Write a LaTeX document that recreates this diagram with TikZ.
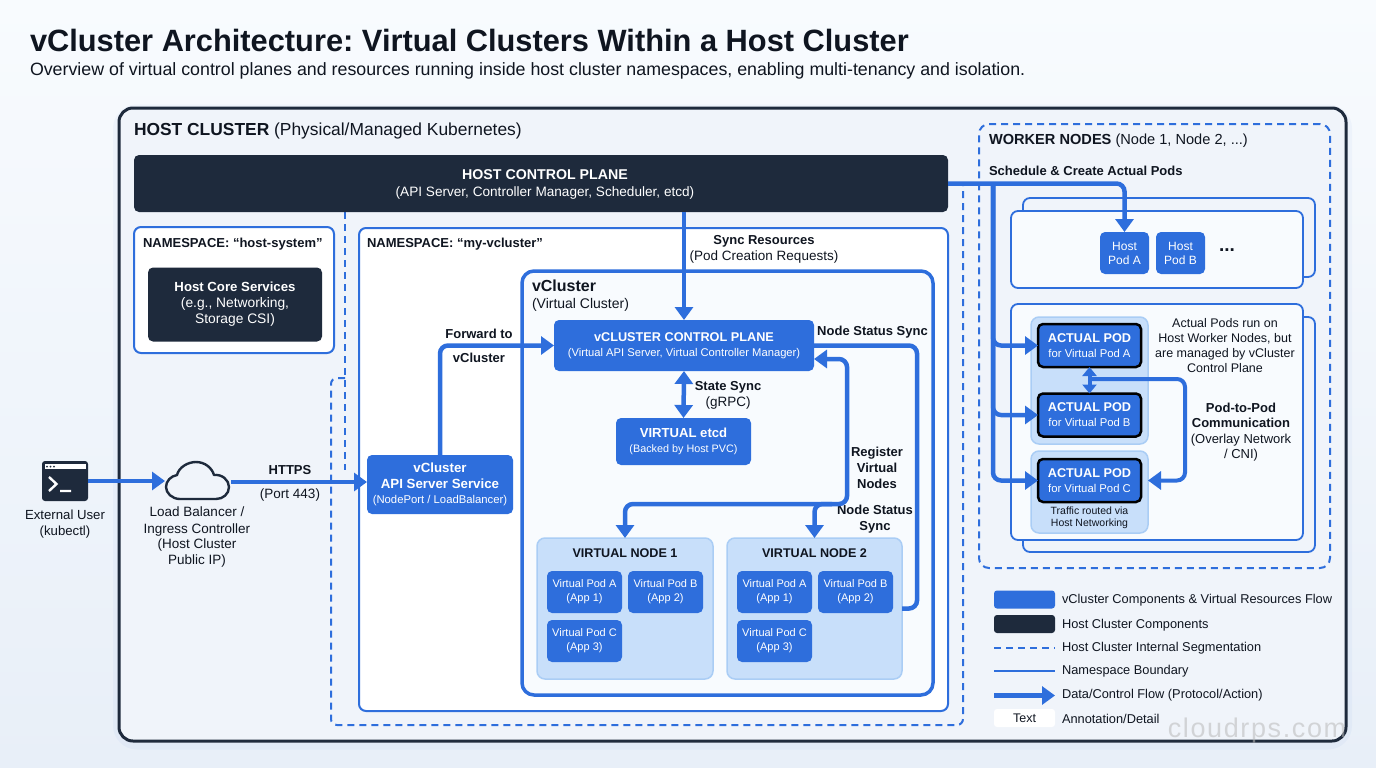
\documentclass[tikz,border=0pt]{standalone}
\usepackage{fontspec}
\setmainfont{Liberation Sans}
\usepackage{tikz}
\usetikzlibrary{arrows.meta,positioning}
\definecolor{hostdark}{RGB}{30, 42, 60}
\definecolor{vblue}{RGB}{46, 110, 220}
\definecolor{panelblue}{RGB}{200, 223, 250}
\definecolor{panelline}{RGB}{170, 205, 245}
\definecolor{inktext}{RGB}{15, 21, 32}
\definecolor{pagetop}{RGB}{248, 251, 254}
\definecolor{pagebot}{RGB}{232, 239, 248}
\definecolor{hostfill}{RGB}{240, 244, 250}
\newcommand{\bline}[2]{{\fontsize{#1}{#1}\selectfont\bfseries #2}}
\pgfdeclarelayer{bg}
\pgfsetlayers{bg,main}
\frenchspacing

\begin{document}
\begin{tikzpicture}
  [x=1pt,y=-1pt,
  every node/.style={inner sep=0pt,outer sep=0pt,text=inktext},
  txt/.style={align=center,font=\fontsize{13.2}{16}\selectfont},
  btxt/.style={align=center,font=\fontsize{13}{16}\selectfont\bfseries},
  bluebox/.style={rectangle,rounded corners=5pt,fill=vblue,text=white,align=center,font=\fontsize{11}{14}\selectfont},
  darkbox/.style={rectangle,rounded corners=5pt,fill=hostdark,text=white,align=center,font=\fontsize{13.8}{16}\selectfont},
  nsbox/.style={rectangle,rounded corners=7pt,draw=vblue,line width=2pt,fill=white},
  stackbox/.style={rectangle,rounded corners=7pt,draw=vblue,line width=1.8pt,minimum width=292pt},
  panel/.style={rectangle,rounded corners=8pt,draw=panelline,line width=1.5pt,fill=panelblue},
  vpod/.style={bluebox,minimum width=75pt,minimum height=42pt},
  hpod/.style={bluebox,minimum width=49pt,minimum height=42pt,font=\fontsize{12}{14}\selectfont},
  apod/.style={bluebox,draw=black,line width=2.5pt,minimum width=103pt,minimum height=43pt,font=\fontsize{11.3}{15}\selectfont},
  segline/.style={draw=vblue,line width=2pt,dash pattern=on 7pt off 5pt},
  flow/.style={draw=vblue,line width=4.5pt,rounded corners=8pt,-{Triangle[width=18pt,length=13pt]}},
  twoflow/.style={draw=vblue,line width=4.5pt,rounded corners=8pt,{Triangle[width=18pt,length=13pt]}-{Triangle[width=18pt,length=13pt]}},
  smallflow/.style={draw=vblue,line width=4pt,{Triangle[width=14pt,length=9pt]}-{Triangle[width=14pt,length=9pt]}},
  legendtxt/.style={anchor=west,font=\fontsize{12.8}{16}\selectfont}]
  \useasboundingbox (0,0) rectangle (1376,768);

  \begin{pgfonlayer}{bg}
    \fill[top color=pagetop,bottom color=pagebot] (0,0) rectangle (1376,768);
    \node (hostshadow) at (732.5,427) [rectangle,rounded corners=18pt,draw=vblue,draw opacity=.04,line width=12pt,minimum width=1227pt,minimum height=633pt] {};
    \node (hostcluster) at (732.5,424.5) [rectangle,rounded corners=14pt,draw=hostdark,line width=3pt,fill=hostfill,minimum width=1227pt,minimum height=633pt] {};
  \end{pgfonlayer}

  % Title
  \node (title) at (30,40) [anchor=west,font=\fontsize{30.8}{36}\selectfont\bfseries] {vCluster Architecture: Virtual Clusters Within a Host Cluster};
  \node (subtitle) at (30,70.5) [anchor=west,font=\fontsize{17.8}{20}\selectfont] {Overview of virtual control planes and resources running inside host cluster namespaces, enabling multi-tenancy and isolation.};
  \node (hostlabel) at (134,131) [anchor=west,font=\fontsize{17.4}{20}\selectfont] {\textbf{HOST CLUSTER} (Physical/Managed Kubernetes)};

  % Segmentation
  \coordinate (segtop) at (345,212);
  \coordinate (segstub) at (345,470);
  \coordinate (segleft) at (331,378);
  \coordinate (segcorner) at (963,725);
  \coordinate (segend) at (963,186);
  \draw[segline] (segtop) -- (segstub);
  \draw[segline,rounded corners=6pt] (segleft -| segtop) -- (segleft) |- (segcorner) -- (segend);
  \node (workers) at (1154.5,346) [rectangle,rounded corners=10pt,segline,minimum width=351pt,minimum height=444pt] {};

  % Host control plane and namespaces
  \node (hostcp) at (541,183.5) [darkbox,minimum width=814pt,minimum height=57pt] {};
  \node (hostcptext) at (545,184.5) [align=center,text=white,font=\fontsize{13.6}{17}\selectfont] {\bline{14.2}{\textcolor{white}{HOST CONTROL PLANE}}\\(API Server, Controller Manager, Scheduler, etcd)};
  \node (nshost) at (234,290) [nsbox,minimum width=200pt,minimum height=126pt] {};
  \node (nshostlabel) at (143,244) [anchor=west,btxt] {NAMESPACE: “host-system”};
  \node (hostcore) at (235,304.5) [darkbox,minimum width=174pt,minimum height=74pt] {\bline{13.2}{\textcolor{white}{Host Core Services}}\\(e.g., Networking,\\Storage CSI)};
  \node (nsvc) at (653.5,469.5) [nsbox,minimum width=589pt,minimum height=483pt] {};
  \node (nsvclabel) at (367,244) [anchor=west,btxt] {NAMESPACE: “my-vcluster”};

  % vCluster
  \node (vcluster) at (727.5,483) [rectangle,rounded corners=12pt,draw=vblue,line width=3.5pt,fill=pagetop,minimum width=411pt,minimum height=424pt] {};
  \node (vclabel) at (532,296) [anchor=west,align=left,font=\fontsize{14}{17}\selectfont] {\bline{16}{vCluster}\\(Virtual Cluster)};
  \node (vcp) at (684,345.5) [bluebox,minimum width=260pt,minimum height=51pt,font=\fontsize{11.2}{15}\selectfont] {\bline{12.7}{\textcolor{white}{vCLUSTER CONTROL PLANE}}\\(Virtual API Server, Virtual Controller Manager)};
  \node (etcd) at (683.5,441.5) [bluebox,minimum width=135pt,minimum height=47pt,font=\fontsize{10.8}{15}\selectfont] {\bline{13.1}{\textcolor{white}{VIRTUAL etcd}}\\(Backed by Host PVC)};
  \node (api) at (440,484.5) [bluebox,minimum width=146pt,minimum height=59pt,font=\fontsize{11.3}{15.5}\selectfont] {\bline{13.3}{\textcolor{white}{vCluster}}\\\bline{13.3}{\textcolor{white}{API Server Service}}\\(NodePort / LoadBalancer)};

  % Virtual nodes
  \node (vn1) at (625,608.5) [panel,minimum width=176pt,minimum height=141pt] {};
  \node (vn1label) at (625,553) [btxt,font=\fontsize{12.6}{16}\selectfont\bfseries] {VIRTUAL NODE 1};
  \node (vn1a) at (584.5,592) [vpod] {Virtual Pod A\\(App 1)};
  \node (vn1b) [vpod, right=6pt of vn1a] {Virtual Pod B\\(App 2)};
  \node (vn1c) [vpod, below=7pt of vn1a] {Virtual Pod C\\(App 3)};
  \node (vn2) at (814.5,608.5) [panel,minimum width=175pt,minimum height=141pt] {};
  \node (vn2label) at (814.5,553) [btxt,font=\fontsize{12.6}{16}\selectfont\bfseries] {VIRTUAL NODE 2};
  \node (vn2a) at (774.5,592) [vpod] {Virtual Pod A\\(App 1)};
  \node (vn2b) [vpod, right=6pt of vn2a] {Virtual Pod B\\(App 2)};
  \node (vn2c) [vpod, below=7pt of vn2a] {Virtual Pod C\\(App 3)};

  % Worker nodes
  \node (workerlabel) at (989,140.5) [anchor=west,font=\fontsize{14.6}{18}\selectfont] {\textbf{WORKER NODES} (Node 1, Node 2, ...)};
  \node (schedule) at (989,170.5) [anchor=west,btxt] {Schedule \& Create Actual Pods};
  \node (upperback) at (1169,237.5) [stackbox,minimum height=79pt] {};
  \node (upperfront) at (1157,249.5) [stackbox,fill=pagetop,minimum height=77pt] {};
  \node (hostpoda) at (1124.5,253) [hpod] {Host\\Pod A};
  \node (hostpodb) [hpod, right=7pt of hostpoda] {Host\\Pod B};
  \node (hostdots) at (1227,250) [font=\fontsize{19}{20}\selectfont\bfseries] {...};
  \node (lowerback) at (1169,434.5) [stackbox,minimum height=235pt] {};
  \node (lowerfront) at (1157,422) [stackbox,fill=pagetop,minimum height=236pt] {};
  \node (panelab) at (1089.5,380.5) [panel,minimum width=117pt,minimum height=127pt] {};
  \node (panelc) at (1089.5,492) [panel,minimum width=117pt,minimum height=82pt] {};
  \node (actuala) at (1089.5,345.5) [apod] {\bline{12.7}{\textcolor{white}{ACTUAL POD}}\\for Virtual Pod A};
  \node (actualb) at (1089.5,415) [apod] {\bline{12.7}{\textcolor{white}{ACTUAL POD}}\\for Virtual Pod B};
  \node (actualc) at (1089.5,480.5) [apod] {\bline{12.7}{\textcolor{white}{ACTUAL POD}}\\for Virtual Pod C};
  \node (traffic) at (1089.5,518) [align=center,font=\fontsize{10.5}{12}\selectfont] {Traffic routed via\\Host Networking};
  \node (actualnote) at (1225,346) [align=center,font=\fontsize{12.5}{15}\selectfont] {Actual Pods run on\\Host Worker Nodes, but\\are managed by vCluster\\Control Plane};
  \node (p2plabel) at (1241,432) [align=center,font=\fontsize{13}{15.5}\selectfont] {\textbf{Pod-to-Pod}\\\textbf{Communication}\\(Overlay Network\\/ CNI)};

  % External side
  \node (user) at (65,481) [rectangle,rounded corners=3pt,fill=hostdark,minimum width=46pt,minimum height=40pt] {};
  \fill[white] (45,464) rectangle (86,469);
  \fill[hostdark] (47,466.5) circle (1pt) (50.5,466.5) circle (1pt) (54,466.5) circle (1pt);
  \draw[white,line width=2.4pt] (49,477) -- (56.5,484) -- (49,491) (60,491) -- (71,491);
  \node (userlabel) at (65,524.5) [txt] {External User\\(kubectl)};
  \node (lb) at (198,482) [minimum width=66pt,minimum height=38pt] {};
  \draw[hostdark,line width=2.4pt,line join=round] (180,499) .. controls (172,499) and (166,493) .. (166,487) .. controls (166,481) and (171,476) .. (177,475) .. controls (179,467) and (188,462) .. (196,462) .. controls (205,462) and (212,468) .. (214,475) .. controls (222,474) and (229,480) .. (229,487) .. controls (229,494) and (223,499) .. (216,499) -- cycle;
  \node (lblabel) at (197,537.5) [txt,font=\fontsize{13.5}{16}\selectfont] {Load Balancer /\\Ingress Controller\\(Host Cluster\\Public IP)};
  \node (https) at (290,470.5) [btxt] {HTTPS};
  \node (port) at (290,495.5) [txt,font=\fontsize{13.5}{16}\selectfont] {(Port 443)};

  % Flows
  \draw[flow] (user.east) -- (user.east -| lb.west);
  \draw[flow] (lb.east) -- (lb.east -| api.west);
  \draw[flow] (api.north) |- (vcp.west);
  \draw[flow] (vcp.north |- hostcp.south) -- (vcp.north);
  \draw[twoflow] (vcp.south) -- (etcd.north);
  \node (fwd1) at (479,333.5) [btxt] {Forward to};
  \node (fwd2) at (479,357.5) [btxt] {vCluster};
  \node (synclabel) at (764,249.5) [align=center,font=\fontsize{13.5}{16}\selectfont] {\textbf{\fontsize{13}{16}\selectfont Sync Resources}\\(Pod Creation Requests)};
  \node (statelabel) at (728,395.5) [align=center,font=\fontsize{13.5}{16}\selectfont] {\textbf{\fontsize{13}{16}\selectfont State Sync}\\(gRPC)};
  \node (statussync) at (872.5,332.5) [btxt] {Node Status Sync};
  \node (register) at (877,467.5) [btxt] {Register\\Virtual\\Nodes};
  \node (statussync2) at (875,519.5) [btxt] {Node Status\\Sync};

  \coordinate (statuscol) at (917,470);
  \draw[draw=vblue,line width=4.5pt,rounded corners=8pt] (vcp.east) -| (statuscol) |- (vn2.east);
  \coordinate (regin) at (814,359);
  \coordinate (regbus) at (847,504);
  \coordinate (regbranch) at (832,504);
  \draw[twoflow] (vn1.north) |- (regbus) |- (regin);
  \draw[flow] (regbranch) -| (vn2.north);

  \coordinate (hostbus) at (993,183.5);
  \draw[flow] (hostcp.east) -| (hostpoda.north);
  \draw[flow] (hostbus) |- (actuala.west);
  \draw[flow] (hostbus) |- (actualb.west);
  \draw[flow] (hostbus) |- (actualc.west);

  \coordinate (p2pjoin) at (1089.5,379);
  \coordinate (p2pcol) at (1185,430);
  \draw[smallflow] (actuala.south) -- (actualb.north);
  \draw[flow,line width=4pt] (p2pjoin) -| (p2pcol) |- (actualc.east -| panelc.east);

  % Legend
  \node (legblue) at (1024.5,599.5) [rectangle,rounded corners=3pt,fill=vblue,minimum width=61pt,minimum height=18pt] {};
  \node (legbluetxt) at (1062,600.5) [legendtxt] {vCluster Components \& Virtual Resources Flow};
  \node (legdark) at (1024.5,624) [rectangle,rounded corners=3pt,fill=hostdark,minimum width=61pt,minimum height=18pt] {};
  \node (legdarktxt) at (1062,625.5) [legendtxt] {Host Cluster Components};
  \node (legdashtxt) at (1062,648) [legendtxt] {Host Cluster Internal Segmentation};
  \coordinate (legdash) at (994,648);
  \draw[segline] (legdash) -- ([xshift=-7pt]legdashtxt.west);
  \node (leglinetxt) at (1062,671) [legendtxt] {Namespace Boundary};
  \coordinate (legline) at (994,671);
  \draw[draw=vblue,line width=2pt] (legline) -- ([xshift=-7pt]leglinetxt.west);
  \node (legflowtxt) at (1062,695.5) [legendtxt] {Data/Control Flow (Protocol/Action)};
  \coordinate (legflow) at (994,695.5);
  \draw[flow] (legflow) -- ([xshift=-7pt]legflowtxt.west);
  \node (legtext) at (1024.5,718) [rectangle,rounded corners=3pt,fill=white,minimum width=61pt,minimum height=18pt,font=\fontsize{12.5}{14}\selectfont] {Text};
  \node (legtexttxt) at (1062,718.5) [legendtxt] {Annotation/Detail};

  % Watermark
  \node (mark) at (1257,731) [font=\fontsize{27}{30}\selectfont,text=gray!55,opacity=.55] {\addfontfeatures{LetterSpace=6}cloudrps.com};
\end{tikzpicture}
\end{document}
